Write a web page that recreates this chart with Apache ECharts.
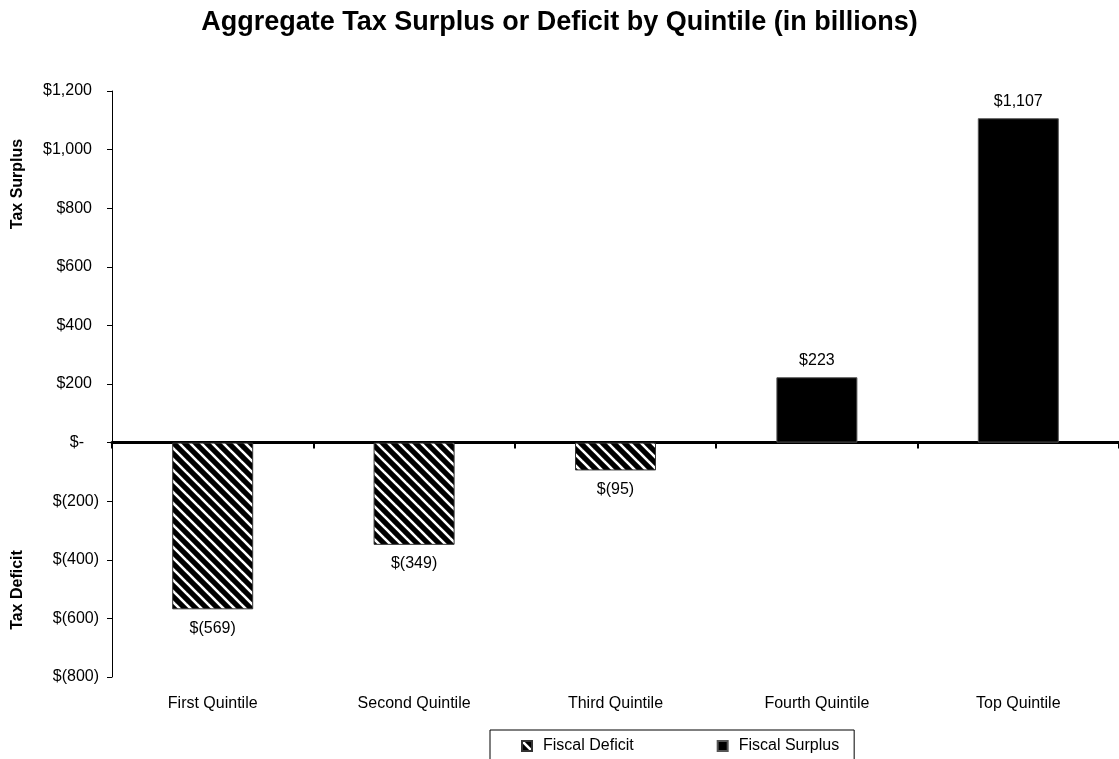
<!DOCTYPE html>
<html>
<head>
<meta charset="utf-8">
<title>Aggregate Tax Surplus or Deficit by Quintile</title>
<script src="https://cdn.jsdelivr.net/npm/echarts@6/dist/echarts.min.js"></script>
<style>
  html, body { margin: 0; padding: 0; background: #ffffff; }
  #chart { width: 1119px; height: 759px; }
</style>
</head>
<body>
<div id="chart"></div>
<script>
// Quintile categories and the aggregate balance of each (billions of dollars)
const categories = ['First Quintile', 'Second Quintile', 'Third Quintile', 'Fourth Quintile', 'Top Quintile'];
const deficitValues = [-569, -349, -95, null, null];
const surplusValues = [null, null, null, 223, 1107];
const yTicks = { min: -800, max: 1200, step: 200 };

const FONT = '"Liberation Sans", Arial, Helvetica, sans-serif';

// Accounting-style money text: $1,107 / $(569) / $-
function money(v) {
  const s = Math.abs(v).toLocaleString('en-US');
  if (v < 0) return '$(' + s + ')';
  if (v === 0) return '$-';
  return '$' + s;
}

// Diagonal hatch tile for the deficit bars (white stripes on black)
function hatchTile() {
  const n = 11;
  const c = document.createElement('canvas');
  c.width = n; c.height = n;
  const g = c.getContext('2d');
  g.fillStyle = '#000000';
  g.fillRect(0, 0, n, n);
  g.strokeStyle = '#ffffff';
  g.lineWidth = 2.6;
  for (let k = -1; k <= 1; k++) {
    g.beginPath();
    g.moveTo(k * n - 2, -2);
    g.lineTo(k * n + n + 2, n + 2);
    g.stroke();
  }
  return c;
}
const hatch = { image: hatchTile(), repeat: 'repeat' };

const chart = echarts.init(document.getElementById('chart'), null, { renderer: 'canvas' });

chart.setOption({
  backgroundColor: '#ffffff',
  animation: false,
  textStyle: { fontFamily: FONT, color: '#000' },
  title: {
    text: 'Aggregate Tax Surplus or Deficit by Quintile (in billions)',
    left: 'center',
    top: 9,
    padding: 0,
    textStyle: { fontFamily: FONT, fontSize: 27, fontWeight: 'bold', color: '#000' }
  },
  legend: {
    left: 490,
    top: 730,
    orient: 'horizontal',
    padding: [8, 15, 24, 31],
    borderColor: '#000',
    borderWidth: 1,
    itemWidth: 10,
    itemHeight: 10,
    itemGap: 83,
    icon: 'rect',
    data: ['Fiscal Deficit', 'Fiscal Surplus'],
    textStyle: { fontFamily: FONT, fontSize: 16, color: '#000', padding: [0, 0, 0, 6] }
  },
  grid: { left: 112, right: -4, top: 91, bottom: 82, containLabel: false },
  xAxis: [
    {
      type: 'category',
      data: categories,
      position: 'bottom',
      axisLine: { show: false, onZero: false },
      axisTick: { show: false },
      axisLabel: { fontFamily: FONT, fontSize: 16, color: '#000', margin: 19 },
      splitLine: { show: false }
    },
    {
      type: 'category',
      data: categories,
      position: 'bottom',
      axisLine: { show: true, onZero: true, onZeroAxisIndex: 0, lineStyle: { color: '#000', width: 3 } },
      axisTick: { show: true, inside: false, length: 6, lineStyle: { color: '#000', width: 2 } },
      axisLabel: { show: false },
      splitLine: { show: false }
    }
  ],
  yAxis: {
    type: 'value',
    min: yTicks.min,
    max: yTicks.max,
    interval: yTicks.step,
    axisLine: { show: true, lineStyle: { color: '#000', width: 1 } },
    axisTick: { show: true, inside: false, length: 5, lineStyle: { color: '#000' } },
    splitLine: { show: false },
    axisLabel: {
      margin: 13,
      formatter: function (v) {
        if (v < 0) return '{n|' + money(v) + '}';
        if (v === 0) return '{z|' + money(v) + '}';
        return '{p|' + money(v) + '}';
      },
      rich: {
        n: { fontFamily: FONT, fontSize: 16, color: '#000' },
        p: { fontFamily: FONT, fontSize: 16, color: '#000', padding: [0, 7, 0, 0] },
        z: { fontFamily: FONT, fontSize: 16, color: '#000', padding: [0, 15, 0, 0] }
      }
    }
  },
  graphic: [
    {
      type: 'text',
      x: 18, y: 184,
      rotation: Math.PI / 2,
      style: { text: 'Tax Surplus', font: 'bold 16px ' + FONT, fill: '#000', align: 'center', verticalAlign: 'middle' }
    },
    {
      type: 'text',
      x: 18, y: 590,
      rotation: Math.PI / 2,
      style: { text: 'Tax Deficit', font: 'bold 16px ' + FONT, fill: '#000', align: 'center', verticalAlign: 'middle' }
    }
  ],
  series: [
    {
      name: 'Fiscal Deficit',
      type: 'bar',
      xAxisIndex: 0,
      data: deficitValues,
      barWidth: 81,
      barGap: '-100%',
      itemStyle: { color: hatch, borderColor: '#333', borderWidth: 1 },
      label: {
        show: true,
        position: 'bottom',
        distance: 11,
        fontFamily: FONT, fontSize: 16, color: '#000',
        formatter: function (p) { return money(p.value); }
      }
    },
    {
      name: 'Fiscal Surplus',
      type: 'bar',
      xAxisIndex: 0,
      data: surplusValues,
      barWidth: 81,
      barGap: '-100%',
      itemStyle: { color: '#000', borderColor: '#555', borderWidth: 1 },
      label: {
        show: true,
        position: 'top',
        distance: 9,
        fontFamily: FONT, fontSize: 16, color: '#000',
        formatter: function (p) { return money(p.value); }
      }
    }
  ]
});
</script>
</body>
</html>
